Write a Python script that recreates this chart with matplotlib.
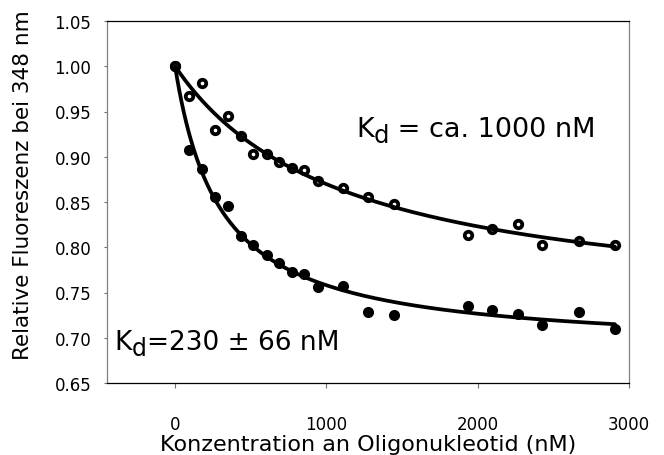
import numpy as np
import matplotlib
matplotlib.use("Agg")
import matplotlib.pyplot as plt
from matplotlib.ticker import FormatStrFormatter

plt.rcParams["font.family"] = ["DejaVu Sans"]

# Titration: oligonucleotide concentration (nM) and relative fluorescence at 348 nm
conc_nM = [0, 93, 175, 263, 351, 433, 512, 605, 688, 776, 853, 945,
           1109, 1278, 1444, 1938, 2095, 2265, 2426, 2669, 2907]
fluor_open = [1.000, 0.967, 0.982, 0.930, 0.945, 0.923, 0.903, 0.903, 0.894,
              0.888, 0.885, 0.873, 0.865, 0.856, 0.848, 0.813, 0.820, 0.826,
              0.803, 0.807, 0.802]
fluor_filled = [1.000, 0.908, 0.886, 0.855, 0.846, 0.812, 0.803, 0.791, 0.783,
                0.773, 0.770, 0.756, 0.757, 0.729, 0.725, 0.735, 0.731, 0.726,
                0.714, 0.729, 0.710]

x_ticks = [0, 1000, 2000, 3000]
y_ticks = [0.65, 0.70, 0.75, 0.80, 0.85, 0.90, 0.95, 1.00, 1.05]

x_label = "Konzentration an Oligonukleotid (nM)"
y_label = "Relative Fluoreszenz bei 348 nm"
kd_open_text = " = ca. 1000 nM"
kd_filled_text = "=230 \u00b1 66 nM"


def fit_binding(x, y):
    """Least-squares fit of y = 1 - A*x/(K + x); returns (K, A)."""
    x = np.asarray(x, float)
    d = 1.0 - np.asarray(y, float)
    k_grid = np.arange(10.0, 5000.0, 1.0)[:, None]
    f = x[None, :] / (k_grid + x[None, :])
    a = (f * d).sum(axis=1) / (f * f).sum(axis=1)
    resid = ((d[None, :] - a[:, None] * f) ** 2).sum(axis=1)
    i = int(np.argmin(resid))
    return k_grid[i, 0], a[i]


def binding_curve(x, k, a):
    return 1.0 - a * x / (k + x)


fig = plt.figure(figsize=(6.64, 4.56), dpi=100)
ax = fig.add_axes([107 / 664, 1 - 384 / 456, 522 / 664, 362 / 456])

x_fit = np.linspace(0, max(conc_nM), 400)
k_f, a_f = fit_binding(conc_nM, fluor_filled)
k_o, a_o = fit_binding(conc_nM, fluor_open)

ax.plot(conc_nM, fluor_filled, linestyle="none", marker="o", ms=8,
        mfc="black", mec="black", mew=0, zorder=2)
ax.plot(conc_nM, fluor_open, linestyle="none", marker="o", ms=5.4,
        mfc="white", mec="black", mew=2.7, zorder=3)
ax.plot(x_fit, binding_curve(x_fit, k_f, a_f), color="black", lw=2.7,
        solid_capstyle="round", zorder=4)
ax.plot(x_fit, binding_curve(x_fit, k_o, a_o), color="black", lw=2.7,
        solid_capstyle="round", zorder=4)

ax.set_xlim(-450, 3000)
ax.set_ylim(0.65, 1.05)
ax.set_xticks(x_ticks)
ax.set_yticks(y_ticks)
ax.yaxis.set_major_formatter(FormatStrFormatter("%.2f"))

ax.tick_params(axis="x", direction="out", length=3.8, width=0.8,
               color="#707070", pad=19, labelsize=12)
ax.tick_params(axis="y", direction="out", length=2.2, width=0.8,
               color="#707070", pad=9, labelsize=12)

for side in ("top", "bottom"):
    ax.spines[side].set_color("black")
    ax.spines[side].set_linewidth(0.9)
for side in ("left", "right"):
    ax.spines[side].set_color("#808080")
    ax.spines[side].set_linewidth(0.9)

ax.set_xlabel(x_label, fontsize=16, va="baseline")
ax.xaxis.set_label_coords(0.5, -0.184)
ax.set_ylabel(y_label, fontsize=15.5, va="baseline")
ax.yaxis.set_label_coords(-0.150, 0.548)


def kd_label(x, y, rest, size):
    k = ax.text(x, y, "K", fontsize=size, va="baseline", ha="left")
    d = ax.annotate("d", xy=(1, 0), xycoords=k, xytext=(0, -3.6),
                    textcoords="offset points", fontsize=size - 2,
                    va="bottom", ha="left")
    ax.annotate(rest, xy=(1, 0), xycoords=d, xytext=(0, 3.6),
                textcoords="offset points", fontsize=size,
                va="bottom", ha="left")


kd_label(1195, 0.9229, kd_open_text, 19.5)
kd_label(-399, 0.6876, kd_filled_text, 19)

fig.savefig("out.png", dpi=100, facecolor="white")
